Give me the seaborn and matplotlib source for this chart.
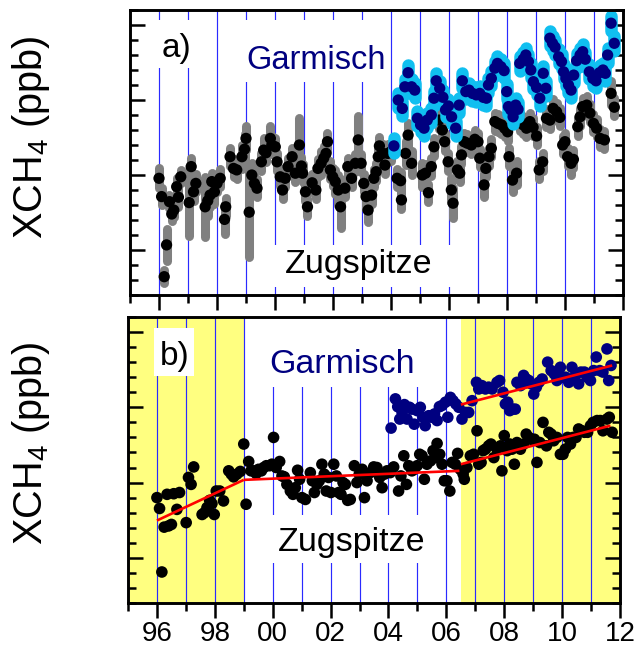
import numpy as np
import pandas as pd
import matplotlib
matplotlib.use("Agg")
import matplotlib.pyplot as plt
import seaborn as sns
from matplotlib.patches import Rectangle
from matplotlib.ticker import MultipleLocator, FixedLocator

sns.set_theme(style="white")
plt.rcParams['font.family'] = ['Liberation Sans', 'DejaVu Sans']
plt.rcParams['mathtext.fontset'] = 'custom'
plt.rcParams['mathtext.rm'] = 'Liberation Sans'
plt.rcParams['mathtext.it'] = 'Liberation Sans:italic'

# ---------------- data ----------------
# panel a: Zugspitze monthly means (ppb) and their spread
zug_a_x = [1996.00, 1996.09, 1996.18, 1996.26, 1996.36, 1996.44, 1996.51, 1996.61, 1996.67, 1996.75,
           1997.04, 1997.11, 1997.19, 1997.27, 1997.59, 1997.68, 1997.76, 1997.82, 1997.91, 1998.00,
           1998.11, 1998.26, 1998.30, 1998.45, 1998.57, 1998.68, 1998.86, 1998.95, 1999.00, 1999.11,
           1999.20, 1999.29, 1999.38, 1999.53, 1999.61, 1999.69, 1999.84, 1999.89, 2000.01, 2000.07,
           2000.18, 2000.26, 2000.35, 2000.45, 2000.59, 2000.70, 2000.84, 2000.91, 2000.95, 2001.05,
           2001.12, 2001.28, 2001.41, 2001.48, 2001.59, 2001.68, 2001.76, 2001.81, 2001.91, 2001.99,
           2002.08, 2002.18, 2002.26, 2002.41, 2002.51, 2002.64, 2002.77, 2002.87, 2002.97, 2003.06,
           2003.14, 2003.21, 2003.33, 2003.41, 2003.49, 2003.56, 2003.60, 2003.72, 2003.79, 2003.89,
           2004.00, 2004.21, 2004.33, 2004.36, 2004.50, 2004.59, 2004.71, 2005.08, 2005.19, 2005.29,
           2005.39, 2005.48, 2005.65, 2005.77, 2005.85, 2005.97, 2006.08, 2006.14, 2006.29, 2006.37,
           2006.43, 2006.52, 2006.63, 2006.77, 2006.89, 2007.00, 2007.06, 2007.21, 2007.27, 2007.38,
           2007.46, 2007.58, 2007.69, 2007.81, 2007.92, 2008.02, 2008.07, 2008.19, 2008.33, 2008.44,
           2008.56, 2008.67, 2008.79, 2008.90, 2009.02, 2009.11, 2009.23, 2009.36, 2009.48, 2009.59,
           2009.71, 2009.82, 2009.92, 2010.00, 2010.09, 2010.21, 2010.29, 2010.44, 2010.52, 2010.61,
           2010.75, 2010.86, 2010.98, 2011.09, 2011.21, 2011.36, 2011.59, 2011.70]
zug_a_y = [1698.9, 1692.8, 1666.1, 1676.7, 1691.1, 1687.0, 1688.3, 1696.1, 1692.6, 1699.4,
           1690.8, 1702.8, 1694.4, 1697.2, 1689.4, 1691.4, 1693.3, 1697.8, 1694.4, 1697.2,
           1698.9, 1685.2, 1689.4, 1706.1, 1702.2, 1701.7, 1706.1, 1708.6, 1712.2, 1687.6,
           1700.0, 1697.2, 1695.6, 1704.4, 1708.3, 1707.4, 1712.2, 1710.0, 1709.4, 1704.4,
           1699.4, 1695.0, 1698.9, 1702.8, 1706.1, 1700.6, 1710.0, 1703.0, 1700.6, 1694.4,
           1689.4, 1697.4, 1695.0, 1702.2, 1703.9, 1705.6, 1707.2, 1711.1, 1701.7, 1699.4,
           1697.8, 1695.0, 1689.4, 1695.6, 1702.8, 1698.9, 1703.9, 1711.7, 1703.9, 1697.2,
           1692.8, 1688.3, 1693.3, 1698.9, 1701.1, 1706.1, 1709.7, 1707.2, 1703.3, 1707.2,
           1707.8, 1698.9, 1698.1, 1691.7, 1707.2, 1713.3, 1703.9, 1700.0, 1700.6, 1694.1,
           1702.8, 1709.4, 1718.3, 1715.0, 1711.1, 1704.4, 1695.0, 1690.6, 1701.7, 1700.6,
           1706.7, 1711.1, 1710.6, 1710.0, 1711.9, 1711.1, 1705.6, 1696.7, 1702.2, 1706.1,
           1708.9, 1717.8, 1717.2, 1716.7, 1715.6, 1714.4, 1706.1, 1698.3, 1700.6, 1717.8,
           1716.7, 1715.6, 1717.8, 1715.9, 1713.0, 1701.7, 1704.4, 1718.9, 1718.3, 1722.2,
           1721.1, 1719.2, 1710.0, 1711.1, 1706.1, 1703.9, 1705.2, 1716.1, 1719.4, 1722.8,
           1723.3, 1720.6, 1717.2, 1715.6, 1712.2, 1711.7, 1727.2, 1722.6]
zug_a_err = [3.3, 2.8, 2.2, 5.3, 2.2, 2.2, 2.2, 2.8, 3.3, 2.2,
             11.0, 3.0, 3.0, 3.0, 10.0, 5.0, 4.0, 3.0, 4.0, 3.0,
             3.0, 5.0, 3.0, 3.0, 3.0, 3.0, 4.0, 5.0, 4.0, 15.0,
             4.0, 3.0, 3.0, 3.0, 4.0, 3.0, 4.0, 3.0, 3.0, 3.0,
             3.0, 3.0, 3.0, 3.0, 3.0, 3.0, 9.0, 3.0, 3.0, 3.0,
             3.0, 3.0, 3.0, 3.0, 4.0, 4.0, 4.0, 3.0, 3.0, 3.0,
             4.0, 5.0, 7.0, 3.0, 3.0, 3.0, 3.0, 8.0, 3.0, 3.0,
             4.0, 4.0, 3.0, 3.0, 3.0, 3.0, 3.0, 3.0, 3.0, 3.0,
             3.0, 3.0, 3.0, 3.0, 4.0, 4.0, 4.0, 4.0, 3.0, 3.0,
             3.0, 3.0, 3.0, 3.0, 3.0, 3.0, 4.0, 5.0, 3.0, 3.0,
             3.0, 3.0, 3.0, 3.0, 3.0, 3.0, 3.0, 4.0, 3.0, 3.0,
             3.0, 3.0, 3.0, 3.0, 3.0, 3.0, 3.0, 4.0, 4.0, 3.0,
             3.0, 3.0, 3.0, 3.0, 3.0, 3.0, 3.0, 3.0, 3.0, 3.0,
             3.0, 3.0, 3.0, 3.0, 3.0, 4.0, 3.0, 3.0, 3.0, 3.0,
             3.0, 3.0, 3.0, 3.0, 3.0, 3.0, 4.0, 3.0]

# panel a: Garmisch monthly means (ppb) and spread
gar_a_x = [2004.10, 2004.25, 2004.39, 2004.48, 2004.59, 2004.71, 2004.82, 2004.91, 2005.02, 2005.14,
           2005.25, 2005.39, 2005.48, 2005.56, 2005.68, 2005.79, 2005.88, 2005.98, 2006.09, 2006.23,
           2006.35, 2006.46, 2006.58, 2006.69, 2006.81, 2006.94, 2007.06, 2007.18, 2007.29, 2007.36,
           2007.46, 2007.58, 2007.67, 2007.79, 2007.90, 2007.99, 2008.05, 2008.13, 2008.21, 2008.30,
           2008.38, 2008.44, 2008.56, 2008.65, 2008.74, 2008.82, 2008.91, 2009.02, 2009.13, 2009.25,
           2009.34, 2009.48, 2009.57, 2009.66, 2009.78, 2009.88, 2009.95, 2010.03, 2010.12, 2010.21,
           2010.30, 2010.40, 2010.52, 2010.61, 2010.70, 2010.84, 2010.96, 2011.07, 2011.19, 2011.31,
           2011.39, 2011.47, 2011.59, 2011.70]
gar_a_y = [1709.7, 1725.0, 1722.2, 1729.4, 1734.1, 1729.4, 1728.3, 1718.9, 1716.7, 1715.6,
           1718.3, 1720.0, 1725.6, 1731.4, 1728.9, 1725.9, 1721.7, 1723.0, 1719.4, 1715.6,
           1723.3, 1731.4, 1727.8, 1728.3, 1727.2, 1726.7, 1727.2, 1725.9, 1725.6, 1730.0,
           1732.2, 1735.6, 1737.2, 1736.1, 1734.8, 1727.8, 1722.8, 1721.7, 1719.4, 1723.3,
           1721.9, 1737.2, 1738.6, 1740.0, 1737.8, 1735.0, 1731.1, 1729.2, 1725.6, 1733.9,
           1728.9, 1745.6, 1743.9, 1742.6, 1739.4, 1737.8, 1734.4, 1732.2, 1730.0, 1728.3,
           1733.3, 1738.1, 1740.0, 1741.1, 1738.6, 1734.4, 1732.2, 1731.4, 1734.1, 1735.0,
           1733.9, 1740.0, 1750.6, 1743.9]
gar_a_err = [2.5] * 74

# panel b: deseasonalised monthly means (ppb)
zug_b_x = [1996.00, 1996.09, 1996.17, 1996.25, 1996.35, 1996.40, 1996.50, 1996.58, 1996.69, 1996.78,
           1997.01, 1997.09, 1997.18, 1997.27, 1997.56, 1997.64, 1997.73, 1997.82, 1997.90, 1997.98,
           1998.05, 1998.17, 1998.30, 1998.48, 1998.57, 1998.65, 1998.76, 1998.88, 1999.00, 1999.08,
           1999.17, 1999.25, 1999.34, 1999.43, 1999.51, 1999.61, 1999.69, 1999.78, 1999.89, 1999.97,
           2000.03, 2000.12, 2000.24, 2000.32, 2000.40, 2000.49, 2000.61, 2000.70, 2000.78, 2000.86,
           2000.93, 2001.01, 2001.13, 2001.30, 2001.37, 2001.44, 2001.53, 2001.61, 2001.70, 2001.78,
           2001.85, 2001.93, 2002.01, 2002.11, 2002.20, 2002.28, 2002.36, 2002.43, 2002.51, 2002.59,
           2002.68, 2002.82, 2002.91, 2002.99, 2003.09, 2003.17, 2003.26, 2003.37, 2003.49, 2003.60,
           2003.70, 2003.78, 2003.86, 2003.95, 2004.06, 2004.18, 2004.35, 2004.43, 2004.53, 2004.62,
           2004.70, 2004.81, 2004.89, 2004.99, 2005.08, 2005.16, 2005.24, 2005.33, 2005.45, 2005.54,
           2005.62, 2005.68, 2005.77, 2005.85, 2005.93, 2006.02, 2006.12, 2006.20, 2006.31, 2006.39,
           2006.48, 2006.58, 2006.62, 2006.71, 2006.83, 2006.94, 2007.06, 2007.12, 2007.20, 2007.27,
           2007.35, 2007.46, 2007.54, 2007.64, 2007.75, 2007.87, 2007.92, 2008.00, 2008.10, 2008.19,
           2008.27, 2008.35, 2008.44, 2008.56, 2008.67, 2008.76, 2008.85, 2008.93, 2009.04, 2009.13,
           2009.23, 2009.34, 2009.46, 2009.54, 2009.62, 2009.71, 2009.82, 2009.94, 2010.03, 2010.11,
           2010.19, 2010.29, 2010.38, 2010.48, 2010.57, 2010.69, 2010.77, 2010.88, 2010.98, 2011.07,
           2011.21, 2011.32, 2011.41, 2011.55, 2011.63, 2011.73]
zug_b_y = [1695.0, 1691.4, 1670.3, 1685.2, 1696.1, 1685.6, 1686.1, 1696.3, 1691.1, 1696.7,
           1686.7, 1701.7, 1699.4, 1705.2, 1689.4, 1690.0, 1691.7, 1694.1, 1693.0, 1689.4,
           1697.2, 1697.2, 1693.9, 1703.9, 1702.8, 1701.9, 1702.8, 1703.7, 1712.8, 1692.8,
           1707.0, 1703.9, 1703.9, 1703.0, 1704.4, 1703.9, 1705.0, 1705.6, 1705.6, 1706.1,
           1715.0, 1705.0, 1707.0, 1702.2, 1701.9, 1699.4, 1697.2, 1696.1, 1698.3, 1704.1,
           1701.1, 1695.0, 1694.4, 1703.3, 1700.6, 1696.7, 1699.4, 1700.6, 1706.1, 1702.8,
           1697.2, 1701.7, 1696.7, 1706.1, 1702.2, 1696.7, 1696.1, 1700.0, 1699.4, 1694.1,
           1694.4, 1705.6, 1700.0, 1702.8, 1704.4, 1695.0, 1700.6, 1703.3, 1705.2, 1705.0,
           1701.7, 1698.3, 1702.8, 1703.9, 1703.3, 1705.2, 1697.2, 1702.2, 1708.9, 1699.4,
           1705.6, 1703.9, 1704.4, 1705.6, 1709.4, 1708.9, 1701.1, 1706.1, 1707.2, 1710.6,
           1708.3, 1713.0, 1709.4, 1706.1, 1700.6, 1700.6, 1697.2, 1706.7, 1706.1, 1709.7,
           1704.4, 1702.8, 1701.1, 1705.0, 1708.9, 1709.4, 1717.2, 1706.1, 1706.7, 1710.6,
           1711.1, 1712.2, 1712.8, 1708.3, 1711.1, 1712.2, 1703.9, 1715.6, 1710.6, 1712.8,
           1711.1, 1706.1, 1713.3, 1711.1, 1712.8, 1716.1, 1715.0, 1714.4, 1714.4, 1706.7,
           1713.3, 1720.0, 1712.2, 1716.7, 1716.1, 1713.9, 1715.0, 1709.4, 1709.4, 1711.1,
           1715.0, 1712.8, 1715.0, 1715.0, 1717.8, 1717.2, 1716.7, 1716.7, 1718.9, 1720.0,
           1720.6, 1720.6, 1717.2, 1721.1, 1721.7, 1716.7]
gar_b_x = [2004.09, 2004.24, 2004.32, 2004.39, 2004.47, 2004.55, 2004.64, 2004.73, 2004.81, 2004.89,
           2004.99, 2005.10, 2005.19, 2005.27, 2005.39, 2005.50, 2005.59, 2005.68, 2005.76, 2005.85,
           2005.97, 2006.05, 2006.14, 2006.23, 2006.33, 2006.43, 2006.54, 2006.66, 2006.77, 2006.89,
           2007.04, 2007.12, 2007.23, 2007.35, 2007.46, 2007.58, 2007.75, 2007.84, 2007.96, 2008.04,
           2008.12, 2008.19, 2008.29, 2008.38, 2008.44, 2008.56, 2008.67, 2008.76, 2008.85, 2008.93,
           2009.02, 2009.11, 2009.20, 2009.31, 2009.50, 2009.62, 2009.73, 2009.82, 2009.94, 2010.03,
           2010.12, 2010.23, 2010.34, 2010.46, 2010.57, 2010.65, 2010.77, 2010.86, 2010.98, 2011.09,
           2011.18, 2011.30, 2011.41, 2011.55, 2011.61, 2011.69]
gar_b_y = [1718.1, 1727.8, 1725.2, 1721.1, 1723.3, 1725.9, 1721.1, 1725.0, 1724.4, 1719.4,
           1723.9, 1725.0, 1721.7, 1718.9, 1722.2, 1721.7, 1722.8, 1720.6, 1725.2, 1725.6,
           1726.7, 1721.7, 1728.3, 1727.2, 1726.1, 1725.0, 1721.1, 1723.3, 1723.3, 1727.2,
           1733.3, 1731.1, 1732.2, 1731.1, 1731.7, 1731.1, 1733.3, 1733.9, 1730.0, 1726.1,
           1726.7, 1723.9, 1724.4, 1724.4, 1733.3, 1732.2, 1735.6, 1734.4, 1733.9, 1732.8,
           1729.4, 1731.7, 1733.3, 1734.4, 1740.0, 1737.2, 1736.1, 1733.9, 1738.3, 1735.0,
           1735.0, 1733.3, 1738.3, 1735.6, 1732.8, 1736.7, 1736.7, 1735.0, 1733.9, 1737.2,
           1741.7, 1737.2, 1736.7, 1744.4, 1733.9, 1738.9]

# piecewise linear trends (segment end points)
zug_trend_x = [[1996.00, 1999.00], [1999.00, 2006.45], [2006.50, 2011.67]]
zug_trend_y = [[1687.4, 1700.9], [1700.9, 1703.9], [1706.1, 1718.9]]
gar_trend_x = [[2006.50, 2011.73]]
gar_trend_y = [[1725.9, 1738.9]]

shade_periods = [(1995.0, 1999.0), (2006.5, 2012.0)]
year_lines = list(range(1996, 2012))
major_years = list(range(1996, 2013, 2))
minor_years = list(range(1995, 2012, 2))
year_labels = ['96', '98', '00', '02', '04', '06', '08', '10', '12']

# ---------------- figure ----------------
W, H = 639, 647
fig = plt.figure(figsize=(W / 100, H / 100), dpi=100)
fig.patch.set_facecolor('white')
ax_a = fig.add_axes([130 / W, 1 - 295 / H, 493 / W, 285 / H])
ax_b = fig.add_axes([128 / W, 1 - 603 / H, 492 / W, 286 / H])

VCOL = '#2a2aff'
NAVY = '#000080'

for ax in (ax_a, ax_b):
    ax.set_facecolor('white')
    ax.set_xlim(1995, 2012)
    ax.set_ylim(1660, 1755)
    for yr in year_lines:
        ax.axvline(yr, color=VCOL, lw=0.85, zorder=1)
    ax.yaxis.set_major_locator(MultipleLocator(25))
    ax.yaxis.set_minor_locator(MultipleLocator(5))
    ax.xaxis.set_major_locator(FixedLocator(major_years))
    ax.xaxis.set_minor_locator(FixedLocator(minor_years))
    ax.tick_params(axis='y', which='both', direction='in', left=True, right=True,
                   labelleft=False, labelright=False, width=1.8, color='black')
    ax.tick_params(axis='y', which='major', length=10.8)
    ax.tick_params(axis='y', which='minor', length=5.8)
    ax.tick_params(axis='x', which='both', direction='out', bottom=True, top=False,
                   width=1.8, color='black')
    ax.tick_params(axis='x', which='major', length=10.8)
    ax.tick_params(axis='x', which='minor', length=5.5)
    for sp in ax.spines.values():
        sp.set_visible(True)
        sp.set_color('black')
        sp.set_linewidth(2.1)
        sp.set_zorder(10)
    ax.grid(False)

# ---- panel a ----
ax_a.tick_params(axis='x', labelbottom=False)
for (x0, x1, y0, y1) in [(0.041, 0.152, 0.796, 0.965), (0.207, 0.519, 0.747, 0.965),
                          (0.255, 0.690, 0.028, 0.175)]:
    ax_a.add_patch(Rectangle((x0, y0), x1 - x0, y1 - y0, transform=ax_a.transAxes,
                             facecolor='white', edgecolor='none', zorder=2))
ax_a.text(0.065, 0.835, 'a)', transform=ax_a.transAxes, fontsize=24, color='black',
          ha='left', va='baseline', zorder=3)
ax_a.text(0.237, 0.793, 'Garmisch', transform=ax_a.transAxes, fontsize=23.5, color=NAVY,
          ha='left', va='baseline', zorder=3)
ax_a.text(0.314, 0.077, 'Zugspitze', transform=ax_a.transAxes, fontsize=24.5, color='black',
          ha='left', va='baseline', zorder=3)

za = pd.DataFrame({'x': zug_a_x, 'y': zug_a_y, 'e': zug_a_err})
ga = pd.DataFrame({'x': gar_a_x, 'y': gar_a_y, 'e': gar_a_err})
ax_a.vlines(za['x'], za['y'] - za['e'], za['y'] + za['e'], colors='#808080', lw=6.5,
            capstyle='round', zorder=4)
sns.scatterplot(data=za, x='x', y='y', ax=ax_a, color='black', s=66, edgecolor='none',
                zorder=5, legend=False)
ax_a.vlines(ga['x'], ga['y'] - ga['e'], ga['y'] + ga['e'], colors='#10bff0', lw=9.0,
            capstyle='round', zorder=6)
sns.scatterplot(data=ga, x='x', y='y', ax=ax_a, color=NAVY, s=66, edgecolor='none',
                zorder=7, legend=False)

# ---- panel b ----
for s0, s1 in shade_periods:
    ax_b.axvspan(s0, s1, color='#ffff80', lw=0, zorder=0)
for (x0, x1, y0, y1) in [(0.053, 0.134, 0.794, 0.962), (0.248, 0.634, 0.755, 1.0),
                          (0.248, 0.634, 0.140, 0.308)]:
    ax_b.add_patch(Rectangle((x0, y0), x1 - x0, y1 - y0, transform=ax_b.transAxes,
                             facecolor='white', edgecolor='none', zorder=2))
ax_b.text(0.065, 0.832, 'b)', transform=ax_b.transAxes, fontsize=24, color='black',
          ha='left', va='baseline', zorder=3)
ax_b.text(0.287, 0.804, 'Garmisch', transform=ax_b.transAxes, fontsize=24.5, color=NAVY,
          ha='left', va='baseline', zorder=3)
ax_b.text(0.305, 0.182, 'Zugspitze', transform=ax_b.transAxes, fontsize=24.5, color='black',
          ha='left', va='baseline', zorder=3)

zb = pd.DataFrame({'x': zug_b_x, 'y': zug_b_y})
gb = pd.DataFrame({'x': gar_b_x, 'y': gar_b_y})
sns.scatterplot(data=zb, x='x', y='y', ax=ax_b, color='black', s=70, edgecolor='none',
                zorder=5, legend=False)
sns.scatterplot(data=gb, x='x', y='y', ax=ax_b, color=NAVY, s=70, edgecolor='none',
                zorder=5, legend=False)
for tx, ty in zip(zug_trend_x + gar_trend_x, zug_trend_y + gar_trend_y):
    ax_b.plot(tx, ty, color='#ff0000', lw=1.9, solid_capstyle='butt', zorder=6)

ax_b.set_xticklabels(year_labels)
ax_b.tick_params(axis='x', which='major', labelsize=20, pad=2, labelcolor='black')

for ax in (ax_a, ax_b):
    ax.set_xlabel('')
    ax.set_ylabel('')

# y labels
ylab = r'XCH$_{\mathrm{4}}$ (ppb)'
fig.text(42 / W, 1 - 137 / H, ylab, rotation=90, rotation_mode='anchor', ha='center',
         va='baseline', fontsize=28.5, color='black')
fig.text(42 / W, 1 - 443 / H, ylab, rotation=90, rotation_mode='anchor', ha='center',
         va='baseline', fontsize=28.5, color='black')

fig.savefig('out.png', dpi=100, facecolor='white')
